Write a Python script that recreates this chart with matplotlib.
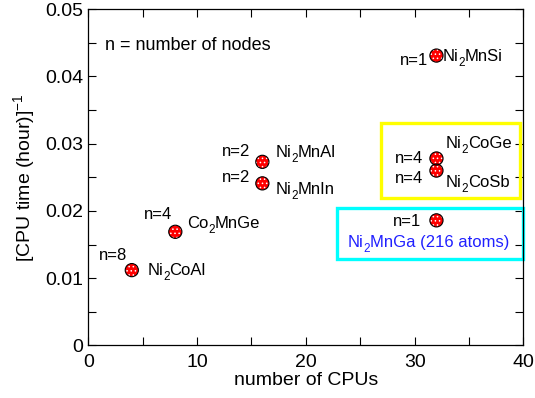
import numpy as np
import matplotlib
matplotlib.use("Agg")
import matplotlib.pyplot as plt
from matplotlib.patches import Rectangle
from matplotlib.ticker import MultipleLocator

plt.rcParams['font.family'] = ['Liberation Sans', 'DejaVu Sans']
plt.rcParams['mathtext.fontset'] = 'custom'
plt.rcParams['mathtext.rm'] = 'Liberation Sans'
plt.rcParams['hatch.linewidth'] = 0.6

# data
compounds = ["Ni2MnSi", "Ni2MnAl", "Ni2MnIn", "Ni2CoGe", "Ni2CoSb", "Ni2MnGa", "Co2MnGe", "Ni2CoAl"]
cpus = [32, 16, 16, 32, 32, 32, 8, 4]
inv_time = [0.0431, 0.0273, 0.0241, 0.0278, 0.0260, 0.0186, 0.0169, 0.0112]
nodes = [1, 2, 2, 4, 4, 1, 4, 8]

# label offsets in pixels: (n dx, n dy, name dx, name dy), dy measured downward
offsets = {
    "Ni2MnSi": (-8, 9, 6, 5),
    "Ni2MnAl": (-12, -6, 13, -4.5),
    "Ni2MnIn": (-12, -1.6, 13, 11),
    "Ni2CoGe": (-13.4, 5, 9.3, -10),
    "Ni2CoSb": (-13.4, 12.7, 9.3, 16.7),
    "Ni2MnGa": (-15, 6, -8, 27),
    "Co2MnGe": (-3, -12.4, 11.7, -4),
    "Ni2CoAl": (-5, -10, 15.4, 5),
}

fig = plt.figure(figsize=(5.35, 3.98), dpi=100)
ax = fig.add_axes([0.165, 0.132, 0.8135, 0.845])
renderer = fig.canvas.get_renderer()


def text_width(s, size):
    t = fig.text(0, 0, s, fontsize=size)
    w = t.get_window_extent(renderer).width
    t.remove()
    return w


def chem_label(x, y, name, dx, dy, size=12, color='black', ha='left'):
    # split the formula into normal runs and subscript digits
    parts = []
    for ch in name:
        isub = ch.isdigit() and len(parts) > 0 and parts[-1][0][-1:].isalpha() and "(" not in name[:name.index(ch)]
        if parts and parts[-1][1] == isub:
            parts[-1] = (parts[-1][0] + ch, isub)
        else:
            parts.append((ch, isub))
    widths = [text_width(p, size * 0.7 if s else size) for p, s in parts]
    pos = dx - sum(widths) / 2 if ha == 'center' else dx
    for (p, s), w in zip(parts, widths):
        ax.annotate(p, (x, y), xytext=(pos, -dy - (5 if s else 0)), textcoords='offset pixels',
                    ha='left', va='baseline', fontsize=size * 0.7 if s else size, color=color)
        pos += w


ax.scatter(cpus, inv_time, s=90, facecolor='red', edgecolor='white', hatch='....', linewidth=0, zorder=3)
ax.scatter(cpus, inv_time, s=90, facecolor='none', edgecolor='black', linewidth=0.8, zorder=4)

for name, x, y, n in zip(compounds, cpus, inv_time, nodes):
    ndx, ndy, cdx, cdy = offsets[name]
    ax.annotate("n=%d" % n, (x, y), xytext=(ndx, -ndy), textcoords='offset pixels',
                ha='right', va='baseline', fontsize=12)
    if name == "Ni2MnGa":
        chem_label(x, y, name + " (216 atoms)", cdx, cdy, color='#2020ff', ha='center')
    else:
        chem_label(x, y, name, cdx, cdy)

ax.text(1.55, 0.0439, "n = number of nodes", fontsize=13, ha='left', va='baseline')

ax.add_patch(Rectangle((26.9, 0.0219), 39.68 - 26.9, 0.0331 - 0.0219, fill=False,
                       edgecolor='#ffff00', linewidth=2.4, clip_on=False, zorder=2))
ax.add_patch(Rectangle((22.83, 0.01285), 39.93 - 22.83, 0.02043 - 0.01285, fill=False,
                       edgecolor='#00ffff', linewidth=2.4, clip_on=False, zorder=2))

ax.set_xlim(0, 40)
ax.set_ylim(0, 0.05)
ax.xaxis.set_major_locator(MultipleLocator(10))
ax.xaxis.set_minor_locator(MultipleLocator(5))
ax.yaxis.set_major_locator(MultipleLocator(0.01))
ax.yaxis.set_minor_locator(MultipleLocator(0.005))
ax.yaxis.set_major_formatter(plt.FuncFormatter(lambda v, p: "0" if v == 0 else "%g" % v))
ax.tick_params(which='both', direction='in', top=True, right=True, length=5.5, width=0.8,
               labelsize=14)
ax.tick_params(axis='x', pad=6)
for sp in ax.spines.values():
    sp.set_linewidth(0.9)

ax.set_xlabel("number of CPUs", fontsize=14, labelpad=1)
ax.set_ylabel(r"[CPU time (hour)]$\mathregular{^{-1}}$", fontsize=14, labelpad=6)

fig.savefig("out.png", dpi=100)
